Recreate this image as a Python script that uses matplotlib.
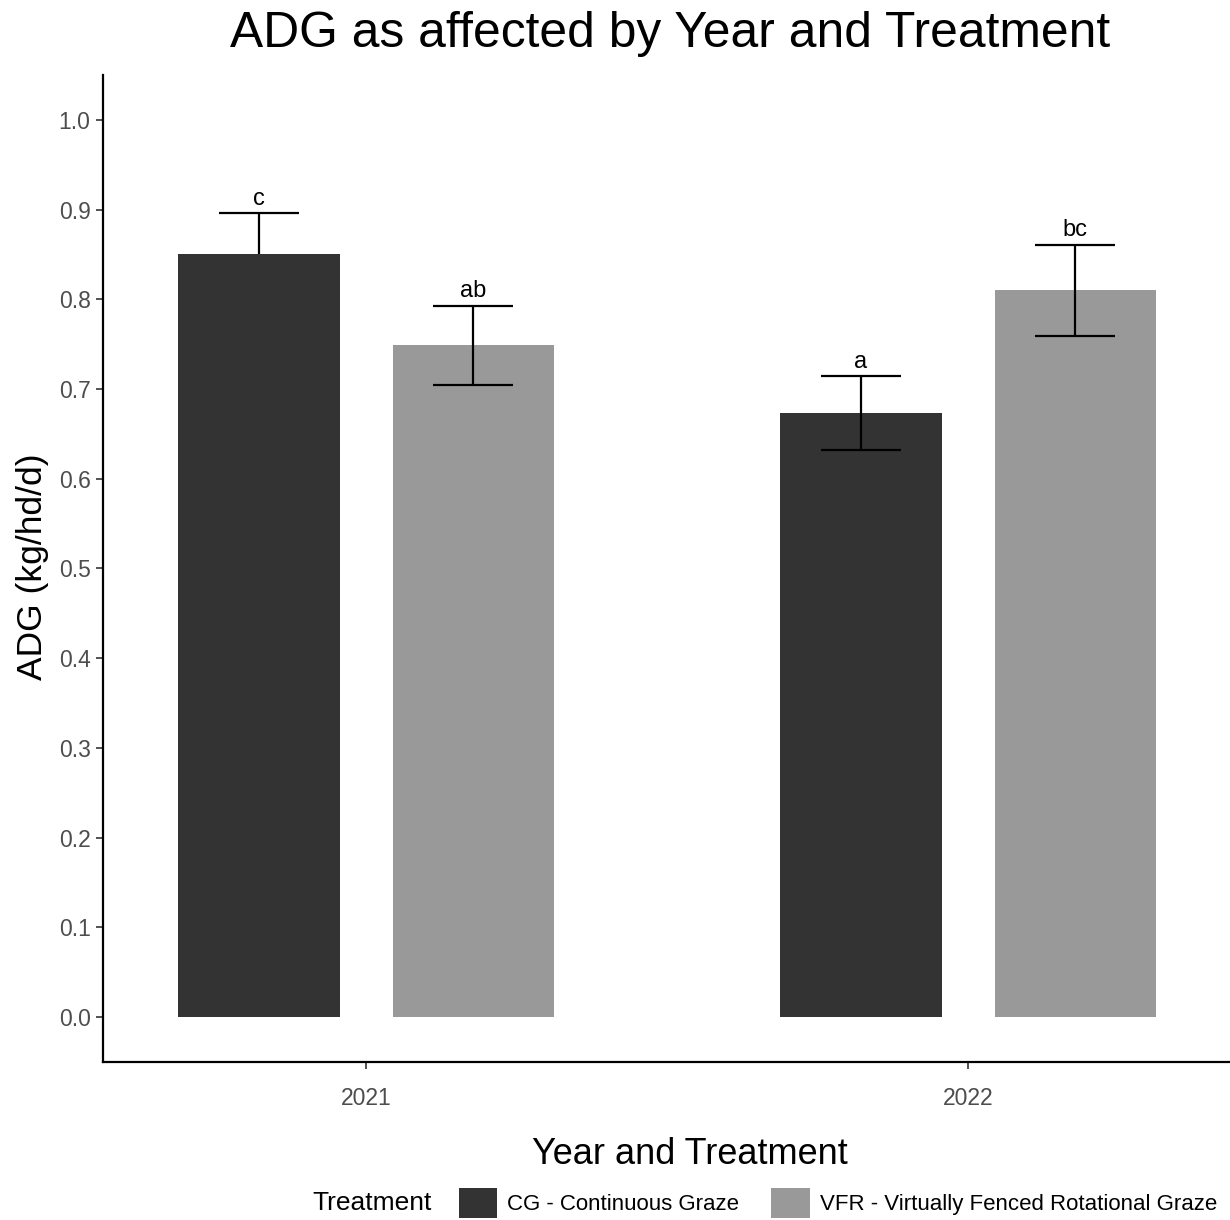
import numpy as np
import matplotlib.pyplot as plt

plt.rcParams['font.family'] = ['Liberation Sans', 'DejaVu Sans']

# ADG means, standard errors and mean-separation letters
years = ['2021', '2022']
treatments = ['CG - Continuous Graze', 'VFR - Virtually Fenced Rotational Graze']
adg_cg = [0.851, 0.673]
adg_vfr = [0.749, 0.810]
se_cg = [0.045, 0.041]
se_vfr = [0.044, 0.051]
letters_cg = ['c', 'a']
letters_vfr = ['ab', 'bc']
colors = ['#333333', '#999999']

W, H = 1230, 1220
fig = plt.figure(figsize=(W / 100, H / 100), dpi=100)
ax = fig.add_axes([103 / W, 1 - 1062 / H, 1 - 103 / W, (1062 - 75) / H])

x = np.arange(len(years))
width = 0.268
offset = 0.178
cap = 0.0665

handles = []
series = [(adg_cg, se_cg, letters_cg), (adg_vfr, se_vfr, letters_vfr)]
for i, (vals, errs, labs) in enumerate(series):
    pos = x + (2 * i - 1) * offset
    vals = np.array(vals)
    errs = np.array(errs)
    b = ax.bar(pos, vals, width, color=colors[i], label=treatments[i], zorder=2)
    handles.append(b)
    lo, hi = vals - errs, vals + errs
    for j in range(len(pos)):
        # the first 2021 bar sits on top of its own error bar
        z = 1 if (i == 0 and j == 0) else 3
        ax.vlines(pos[j], lo[j], hi[j], color='black', lw=1.6, zorder=z)
        ax.hlines([lo[j], hi[j]], pos[j] - cap, pos[j] + cap,
                  color='black', lw=1.6, zorder=z)
    for p, h, t in zip(pos, hi, labs):
        ax.annotate(t, (p, h), xytext=(0, 2.5), textcoords='offset points',
                    ha='center', va='bottom', fontsize=17)

ax.set_xlim(-0.437, 1.435)
ax.set_ylim(-0.05, 1.05)
ax.set_xticks(x)
ax.set_xticklabels(years)
yt = np.arange(0, 1.01, 0.1)
ax.set_yticks(yt)
ax.set_yticklabels(['%.1f' % v for v in yt])

for s in ['top', 'right']:
    ax.spines[s].set_visible(False)
for s in ['left', 'bottom']:
    ax.spines[s].set_linewidth(1.6)
ax.tick_params(axis='both', length=5, width=1.2, color='#333333',
               labelcolor='#4d4d4d', labelsize=16.5)
ax.tick_params(axis='y', pad=4)
ax.tick_params(axis='x', pad=13)

fig.text(670 / W, 1 - 34 / H, 'ADG as affected by Year and Treatment',
         fontsize=35.8, ha='center', va='center')
fig.text(690 / W, 1 - 1155 / H, 'Year and Treatment',
         fontsize=26, ha='center', va='center')
fig.text(33 / W, 1 - 567 / H, 'ADG (kg/hd/d)', fontsize=25.5,
         rotation=90, ha='center', va='center')

fig.text(312 / W, 1 - 1203 / H, 'Treatment', fontsize=19, ha='left', va='center')
fig.legend(handles=handles, loc='center left',
           bbox_to_anchor=(459 / W, 1 - 1203 / H), ncol=2, frameon=False,
           fontsize=16, handlelength=1.72, handleheight=1.72,
           handletextpad=0.45, columnspacing=1.45, borderpad=0,
           borderaxespad=0)

fig.savefig('out.png', dpi=100)
